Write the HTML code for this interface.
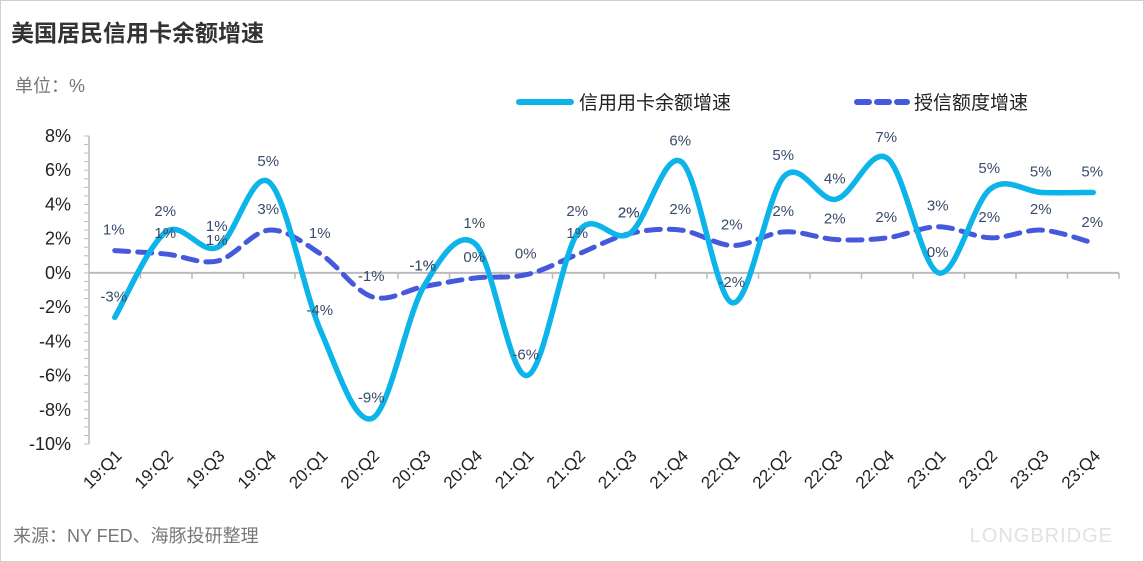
<!DOCTYPE html>
<html><head><meta charset="utf-8"><style>
body{margin:0;background:#fff}
#wrap{position:relative;width:1144px;height:562px;overflow:hidden;font-family:"Liberation Sans","Noto Sans CJK SC",sans-serif;box-sizing:border-box;border:1px solid #d0d0d0}
</style></head><body>
<div id="wrap">
<svg id="chart" width="1144" height="562" style="position:absolute;left:0;top:0">
<text x="10" y="40" font-size="23" font-weight="bold" fill="#333" font-family="Liberation Sans, Noto Sans CJK SC, sans-serif">美国居民信用卡余额增速</text>
<text x="14" y="91" font-size="18" fill="#777" font-family="Liberation Sans, Noto Sans CJK SC, sans-serif">单位：%</text>
<g>
<line x1="518" y1="101" x2="570" y2="101" stroke="#0cb4ea" stroke-width="6" stroke-linecap="round"/>
<text x="578" y="108" font-size="19" fill="#222" font-family="Liberation Sans, Noto Sans CJK SC, sans-serif">信用用卡余额增速</text>
<line x1="856" y1="101" x2="906" y2="101" stroke="#4658dc" stroke-width="6" stroke-dasharray="12 8" stroke-linecap="round"/>
<text x="913" y="108" font-size="19" fill="#222" font-family="Liberation Sans, Noto Sans CJK SC, sans-serif">授信额度增速</text>
</g>
<text x="1112" y="541" font-size="20" fill="#e2e2e2" text-anchor="end" letter-spacing="1">LONGBRIDGE</text>
<text x="12" y="541" font-size="18" fill="#777" font-family="Liberation Sans, Noto Sans CJK SC, sans-serif">来源：NY FED、海豚投研整理</text>
</svg>
</div>
<script>
const categories=["19:Q1","19:Q2","19:Q3","19:Q4","20:Q1","20:Q2","20:Q3","20:Q4","21:Q1","21:Q2","21:Q3","21:Q4","22:Q1","22:Q2","22:Q3","22:Q4","23:Q1","23:Q2","23:Q3","23:Q4"];
const balanceGrowth=[-2.6,2.4,1.5,5.3,-3.4,-8.5,-0.8,1.7,-6.0,2.4,2.3,6.5,-1.75,5.65,4.3,6.7,0.0,4.9,4.7,4.7];
const creditLineGrowth=[1.3,1.1,0.7,2.5,1.1,-1.4,-0.8,-0.3,-0.1,1.1,2.3,2.5,1.6,2.4,1.95,2.05,2.7,2.05,2.5,1.75];
const balanceLabels=["-3%","2%","1%","5%","-4%","-9%","-1%","1%","-6%","2%","2%","6%","-2%","5%","4%","7%","0%","5%","5%","5%"];
const creditLabels=["1%","1%","1%","3%","1%","-1%","-1%","0%","0%","1%","2%","2%","2%","2%","2%","2%","3%","2%","2%","2%"];
const yTicks=[8,6,4,2,0,-2,-4,-6,-8,-10];

const NS="http://www.w3.org/2000/svg";
const svg=document.getElementById('chart');
const X0=88,X1=1118,Y8=135,Ym10=443;
const step=(X1-X0)/categories.length;
const xs=i=>X0+step*(i+0.5);
const ys=v=>Y8+(8-v)*(Ym10-Y8)/18;
function mk(t,a){const e=document.createElementNS(NS,t);for(const k in a)e.setAttribute(k,a[k]);svg.appendChild(e);return e;}

// y axis
let ax=mk('line',{x1:X0,y1:ys(8),x2:X0,y2:ys(-10),stroke:'#bbb','stroke-width':1.5});


for(let v=8;v>=-10;v-=0.5){const t=mk('line',{x1:X0-5,y1:ys(v),x2:X0,y2:ys(v),stroke:'#bbb','stroke-width':1});

}
yTicks.forEach(v=>{const t=mk('text',{x:70,y:ys(v)+6,'font-size':18,fill:'#222','text-anchor':'end'});t.textContent=v+'%';

});
// x axis at 0
let xa=mk('line',{x1:X0,y1:ys(0),x2:X1,y2:ys(0),stroke:'#bbb','stroke-width':2});


for(let i=1;i<=categories.length;i++){const t=mk('line',{x1:X0+step*i,y1:ys(0),x2:X0+step*i,y2:ys(0)+6,stroke:'#bbb','stroke-width':1.5});

}
categories.forEach((c,i)=>{const x=xs(i)+8,y=456;const t=mk('text',{x:x,y:y,'font-size':17,fill:'#222','text-anchor':'end',transform:`rotate(-45 ${x} ${y})`});t.textContent=c;

});

function smooth(vals){const p=vals.map((v,i)=>[xs(i),ys(v)]);let d=`M${p[0][0]},${p[0][1]}`;
for(let i=0;i<p.length-1;i++){const p0=p[i-1]||p[i],p1=p[i],p2=p[i+1],p3=p[i+2]||p2;const k=1/6;
d+=` C${p1[0]+(p2[0]-p0[0])*k},${p1[1]+(p2[1]-p0[1])*k} ${p2[0]-(p3[0]-p1[0])*k},${p2[1]-(p3[1]-p1[1])*k} ${p2[0]},${p2[1]}`;}return d;}

const cl=mk('path',{d:smooth(creditLineGrowth),fill:'none',stroke:'#4658dc','stroke-width':5,'stroke-dasharray':'14 9','stroke-linecap':'round'});


const bl=mk('path',{d:smooth(balanceGrowth),fill:'none',stroke:'#0cb4ea','stroke-width':5.5,'stroke-linecap':'round'});



creditLabels.forEach((s,i)=>{const t=mk('text',{x:xs(i)-1,y:ys(creditLineGrowth[i])-16,'font-size':15,fill:'#3a4a6b','text-anchor':'middle'});t.textContent=s;

});
balanceLabels.forEach((s,i)=>{const t=mk('text',{x:xs(i)-1,y:ys(balanceGrowth[i])-16,'font-size':15,fill:'#3a4a6b','text-anchor':'middle'});t.textContent=s;

});
</script>
</body></html>
